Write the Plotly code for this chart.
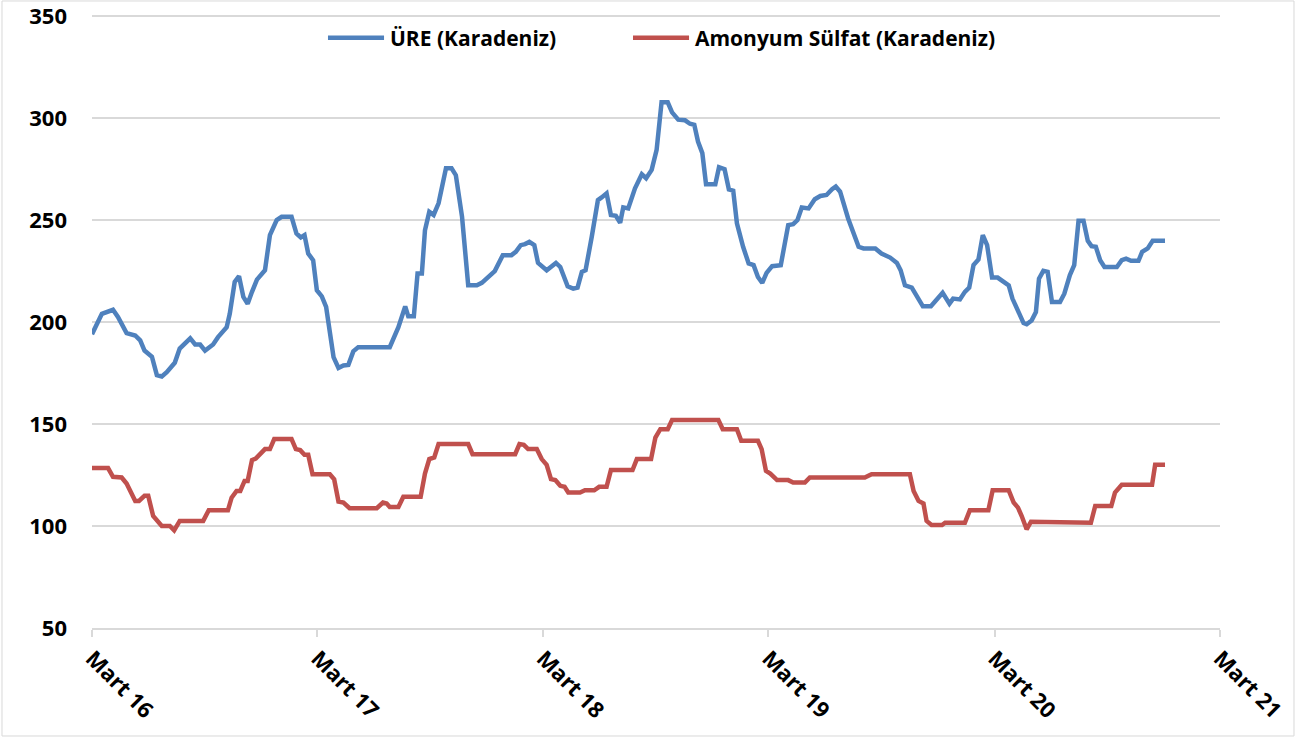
import plotly.graph_objects as go

# ---------------- data ----------------
ure_dates = [
    "2016-03-01", "2016-03-17", "2016-04-04", "2016-04-12", "2016-04-26", "2016-05-10", "2016-05-18",
    "2016-05-25", "2016-06-06", "2016-06-14", "2016-06-22", "2016-06-30", "2016-07-13", "2016-07-21",
    "2016-08-07", "2016-08-15", "2016-08-23", "2016-08-31", "2016-09-13", "2016-09-21", "2016-10-05",
    "2016-10-10", "2016-10-18", "2016-10-25", "2016-11-01", "2016-11-08", "2016-11-15", "2016-11-23",
    "2016-12-06", "2016-12-14", "2016-12-25", "2017-01-02", "2017-01-18", "2017-01-26", "2017-02-02",
    "2017-02-08", "2017-02-14", "2017-02-22", "2017-02-28", "2017-03-08", "2017-03-15", "2017-03-27",
    "2017-04-04", "2017-04-12", "2017-04-20", "2017-04-28", "2017-05-06", "2017-06-26", "2017-07-10",
    "2017-07-21", "2017-07-26", "2017-08-04", "2017-08-10", "2017-08-17", "2017-08-22", "2017-08-29",
    "2017-09-05", "2017-09-13", "2017-09-25", "2017-10-04", "2017-10-11", "2017-10-21", "2017-10-31",
    "2017-11-14", "2017-11-22", "2017-12-05", "2017-12-13", "2017-12-26", "2018-01-09", "2018-01-16",
    "2018-01-24", "2018-01-31", "2018-02-07", "2018-02-15", "2018-02-21", "2018-03-07", "2018-03-22",
    "2018-03-29", "2018-04-10", "2018-04-19", "2018-04-26", "2018-05-03", "2018-05-09", "2018-05-19",
    "2018-05-29", "2018-06-04", "2018-06-12", "2018-06-19", "2018-06-27", "2018-07-04", "2018-07-09",
    "2018-07-17", "2018-07-28", "2018-08-08", "2018-08-15", "2018-08-24", "2018-09-01", "2018-09-09",
    "2018-09-19", "2018-09-26", "2018-10-06", "2018-10-17", "2018-10-25", "2018-11-01", "2018-11-07",
    "2018-11-14", "2018-11-20", "2018-12-05", "2018-12-11", "2018-12-20", "2018-12-27", "2019-01-03",
    "2019-01-09", "2019-01-19", "2019-01-28", "2019-02-05", "2019-02-12", "2019-02-19", "2019-02-26",
    "2019-03-07", "2019-03-21", "2019-04-02", "2019-04-10", "2019-04-17", "2019-04-24", "2019-05-05",
    "2019-05-15", "2019-05-24", "2019-06-03", "2019-06-12", "2019-06-18", "2019-06-25", "2019-07-08",
    "2019-07-25", "2019-08-02", "2019-08-21", "2019-08-31", "2019-09-14", "2019-09-25", "2019-10-01",
    "2019-10-08", "2019-10-19", "2019-10-27", "2019-11-06", "2019-11-19", "2019-11-29", "2019-12-08",
    "2019-12-19", "2019-12-25", "2020-01-05", "2020-01-13", "2020-01-20", "2020-01-27", "2020-02-04",
    "2020-02-11", "2020-02-18", "2020-02-26", "2020-03-06", "2020-03-15", "2020-03-24", "2020-03-30",
    "2020-04-08", "2020-04-17", "2020-04-22", "2020-04-30", "2020-05-07", "2020-05-12", "2020-05-19",
    "2020-05-26", "2020-06-02", "2020-06-15", "2020-06-22", "2020-07-01", "2020-07-08", "2020-07-15",
    "2020-07-23", "2020-07-30", "2020-08-05", "2020-08-12", "2020-08-19", "2020-08-26", "2020-09-15",
    "2020-09-23", "2020-09-30", "2020-10-08", "2020-10-20", "2020-10-26", "2020-11-04", "2020-11-12",
    "2020-12-02",
]
ure_values = [
    194, 204, 206, 202.5, 194.6, 193.4, 191,
    186, 183, 174, 173.3, 175.4, 180, 187,
    192, 189, 189, 186, 189, 192.6, 197.5,
    204, 219.7, 222.5, 212.3, 209, 214.8, 220.8,
    225.4, 242.6, 250, 251.6, 251.6, 243.4, 241.5,
    242.6, 233.6, 230.3, 215.6, 212.6, 207.4, 182.8,
    177.5, 178.7, 179, 185.6, 187.7, 187.7, 197.5,
    207.7, 202.8, 202.8, 223.8, 223.8, 245, 254,
    252.5, 258.2, 275.4, 275.4, 272, 251.6, 218,
    218, 219.2, 223, 225, 232.8, 232.8, 234.4,
    237.7, 238.2, 239.3, 237.7, 229, 225.4, 229,
    227, 217.5, 216.4, 216.9, 224.6, 225.4, 241.8,
    259.8, 261.1, 263.1, 252.5, 252.1, 248.7, 256.2,
    255.7, 265.6, 272.5, 270.5, 274.6, 284.4, 307.7,
    307.7, 302.8, 299.2, 298.9, 297.2, 296.7, 288.5,
    282.8, 267.5, 267.5, 275.9, 274.9, 265, 264.4,
    248.4, 236.9, 228.7, 227.9, 222.1, 219.2, 224.1,
    227.4, 227.9, 247.5, 248, 250, 256.2, 255.7,
    260.2, 261.8, 262.3, 265.1, 266.4, 263.9, 250.8,
    236.9, 236.1, 236.1, 233.6, 231.6, 229, 225.4,
    218, 216.9, 213.1, 207.7, 207.7, 211.5, 214.3,
    209, 211.5, 211.1, 214.8, 216.9, 227.9, 230.7,
    242.6, 237.7, 221.8, 221.8, 219.7, 218, 211.5,
    205.7, 199.5, 198.9, 200.8, 204.9, 221.3, 225.1,
    224.6, 209.8, 209.8, 213.9, 223, 227.9, 249.7,
    249.7, 239.8, 237.2, 236.9, 230.3, 227, 227,
    230.3, 231.1, 230, 230, 234.4, 236.1, 239.8,
    239.8,
]

as_dates = [
    "2016-03-01", "2016-03-27", "2016-04-04", "2016-04-18", "2016-04-26", "2016-05-10", "2016-05-16",
    "2016-05-25", "2016-05-31", "2016-06-08", "2016-06-22", "2016-07-05", "2016-07-12", "2016-07-21",
    "2016-08-28", "2016-09-06", "2016-10-07", "2016-10-13", "2016-10-21", "2016-10-27", "2016-11-03",
    "2016-11-08", "2016-11-15", "2016-11-21", "2016-12-06", "2016-12-14", "2016-12-21", "2017-01-18",
    "2017-01-25", "2017-02-01", "2017-02-08", "2017-02-14", "2017-02-21", "2017-03-21", "2017-03-28",
    "2017-04-04", "2017-04-12", "2017-04-22", "2017-06-05", "2017-06-15", "2017-06-21", "2017-06-26",
    "2017-07-10", "2017-07-18", "2017-08-15", "2017-08-22", "2017-08-29", "2017-09-06", "2017-09-13",
    "2017-10-31", "2017-11-07", "2018-01-15", "2018-01-22", "2018-01-29", "2018-02-05", "2018-02-19",
    "2018-02-27", "2018-03-07", "2018-03-14", "2018-03-21", "2018-03-29", "2018-04-05", "2018-04-11",
    "2018-04-30", "2018-05-08", "2018-05-23", "2018-05-31", "2018-06-12", "2018-06-19", "2018-07-24",
    "2018-07-31", "2018-08-23", "2018-08-30", "2018-09-07", "2018-09-19", "2018-09-26", "2018-12-10",
    "2018-12-17", "2019-01-09", "2019-01-16", "2019-02-12", "2019-02-18", "2019-02-25", "2019-03-04",
    "2019-03-15", "2019-04-02", "2019-04-10", "2019-04-29", "2019-05-07", "2019-08-04", "2019-08-15",
    "2019-10-16", "2019-10-22", "2019-10-30", "2019-11-07", "2019-11-12", "2019-11-20", "2019-12-07",
    "2019-12-12", "2020-01-13", "2020-01-21", "2020-02-20", "2020-02-27", "2020-03-24", "2020-04-01",
    "2020-04-08", "2020-04-14", "2020-04-22", "2020-04-29", "2020-05-27", "2020-06-04", "2020-08-04",
    "2020-08-11", "2020-09-06", "2020-09-12", "2020-09-23", "2020-11-11", "2020-11-16", "2020-12-02",
]
as_values = [
    128.4, 128.4, 124.1, 123.8, 120.8, 112.3, 112.3,
    114.8, 114.8, 104.9, 100, 100, 97.9, 102.5,
    102.5, 107.7, 107.7, 113.9, 117.2, 117.2, 122.1,
    122.1, 132.3, 133.1, 137.7, 137.7, 142.6, 142.6,
    137.7, 137.2, 134.9, 134.9, 125.4, 125.4, 122.9,
    112, 111.5, 108.7, 108.7, 111.5, 111, 109.3,
    109.3, 114.3, 114.3, 125.7, 132.8, 133.6, 140.2,
    140.2, 135.2, 135.2, 140.2, 139.8, 137.7, 137.7,
    132.8, 130, 123, 122.5, 119.7, 119.2, 116.4,
    116.4, 117.5, 117.5, 119.2, 119.2, 127.4, 127.4,
    132.8, 132.8, 143.4, 147.5, 147.5, 152, 152,
    147.5, 147.5, 141.8, 141.8, 137.7, 127, 125.7,
    122.5, 122.5, 121.3, 121.3, 123.8, 123.8, 125.4,
    125.4, 117.2, 112.3, 111, 102.5, 100.5, 100.5,
    101.6, 101.6, 107.7, 107.7, 117.5, 117.5, 111.5,
    109, 104.9, 98.4, 102.1, 102.1, 101.6, 101.6,
    109.8, 109.8, 116.4, 120.2, 120.2, 130, 130,
]

tick_dates = ["2016-03-01", "2017-03-01", "2018-03-01", "2019-03-01", "2020-03-01", "2021-03-01"]
tick_labels = ["Mart 16", "Mart 17", "Mart 18", "Mart 19", "Mart 20", "Mart 21"]
y_ticks = [50, 100, 150, 200, 250, 300, 350]
series_names = ["ÜRE (Karadeniz)", "Amonyum Sülfat (Karadeniz)"]
series_colors = ["#4F81BD", "#C0504D"]

# ---------------- figure ----------------
FONT = "Open Sans"
GRID = "#D9D9D9"

fig = go.Figure()
fig.add_trace(go.Scatter(x=ure_dates, y=ure_values, mode="lines", name=series_names[0],
                         line=dict(color=series_colors[0], width=4.5), showlegend=False))
fig.add_trace(go.Scatter(x=as_dates, y=as_values, mode="lines", name=series_names[1],
                         line=dict(color=series_colors[1], width=4.5), showlegend=False))

# manual legend (line samples + labels), positioned in paper coordinates
legend_items = [
    (0.2092, 0.2589, 0.2624),
    (0.4796, 0.5293, 0.5328),
]
leg_y = 0.9583
shapes = []
annotations = []
for (x0, x1, xt), name, col in zip(legend_items, series_names, series_colors):
    shapes.append(dict(type="line", xref="paper", yref="paper", x0=x0, x1=x1, y0=leg_y, y1=leg_y,
                       line=dict(color=col, width=4.5)))
    annotations.append(dict(xref="paper", yref="paper", x=xt, y=leg_y, text=name, showarrow=False,
                            xanchor="left", yanchor="middle",
                            font=dict(family=FONT, size=21, color="#000000", weight="bold")))

# light border around the chart area
shapes.append(dict(type="rect", xref="paper", yref="paper", x0=-0.0798, x1=1.0656, y0=-0.1753, y1=1.0179,
                   line=dict(color=GRID, width=1), layer="below"))

fig.update_layout(
    width=1298, height=739, autosize=False,
    margin=dict(l=92, r=78, t=12, b=111, autoexpand=False),
    paper_bgcolor="white", plot_bgcolor="white",
    shapes=shapes, annotations=annotations,
    showlegend=False,
)
fig.update_xaxes(
    type="date", range=["2016-03-01", "2021-03-01"],
    tickmode="array", tickvals=tick_dates, ticktext=tick_labels,
    tickangle=45, ticks="outside", ticklen=7, tickcolor=GRID, tickwidth=1.5,
    showline=True, linecolor=GRID, linewidth=1.5, showgrid=False, zeroline=False,
    ticklabeloverflow="allow", automargin=False,
    tickfont=dict(family=FONT, size=22, color="#000000", weight="bold"),
)
fig.update_yaxes(
    range=[50, 352], tickmode="array", tickvals=y_ticks,
    showgrid=True, gridcolor=GRID, gridwidth=1.5, showline=False, zeroline=False,
    ticks="", ticklabelstandoff=24, ticklabeloverflow="allow", automargin=False,
    tickfont=dict(family=FONT, size=22, color="#000000", weight="bold"),
)

fig.write_html("out.html", config={"displayModeBar": False},
               post_script="document.body.style.margin='0';")
